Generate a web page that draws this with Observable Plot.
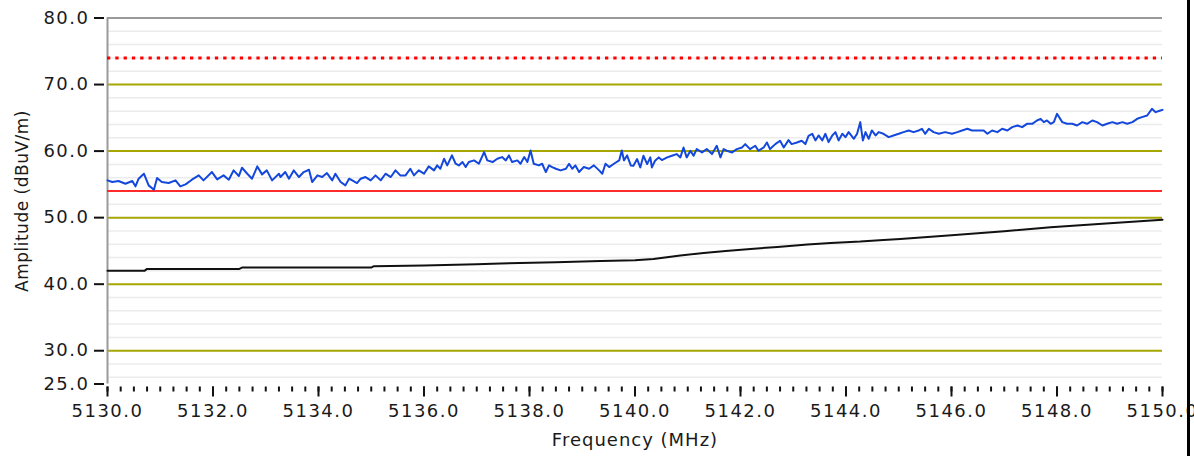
<!DOCTYPE html>
<html>
<head>
<meta charset="utf-8">
<script src="https://cdn.jsdelivr.net/npm/d3@7"></script>
<script src="https://cdn.jsdelivr.net/npm/@observablehq/plot@0.6"></script>
<style>
  html, body { margin: 0; padding: 0; background: #fff; }
  #wrap { position: relative; width: 1194px; height: 456px; overflow: hidden; }
  #edge { position: absolute; left: 1187px; top: 0; width: 3px; height: 456px; background: #000; }
  svg [aria-label="x-axis label"] text { letter-spacing: 1px; font-size: 18px; }
  svg [aria-label="y-axis label"] text { letter-spacing: 0.5px; font-size: 17px; }
</style>
</head>
<body>
<div id="wrap"><div id="chart"></div><div id="edge"></div></div>
<script>
// ---- data ----
const xTicks = [5130, 5132, 5134, 5136, 5138, 5140, 5142, 5144, 5146, 5148, 5150];
const yTicks = [80, 70, 60, 50, 40, 30, 25];
const majorGrid = [70, 60, 50, 40, 30];
const minorGrid = [26, 28, 32, 34, 36, 38, 42, 44, 46, 48, 52, 54, 56, 58, 62, 64, 66, 68, 72, 74, 76, 78];
const limitPeak = 74;   // red dotted
const limitAvg = 54;    // red solid

// blue trace (peak)
const peakTrace = [
  [5130.00,55.6],[5130.09,55.35],[5130.21,55.5],[5130.34,55.1],[5130.47,55.5],[5130.53,54.7],[5130.59,55.85],[5130.69,56.6],
  [5130.78,54.85],[5130.88,54.2],[5130.94,55.95],[5131.03,55.35],[5131.16,55.2],[5131.29,55.6],[5131.38,54.7],[5131.48,55.0],
  [5131.60,55.7],[5131.73,56.35],[5131.82,55.6],[5131.98,56.85],[5132.08,55.75],[5132.20,56.35],[5132.30,55.7],[5132.39,57.1],
  [5132.49,56.25],[5132.55,57.5],[5132.65,56.6],[5132.74,55.85],[5132.84,57.7],[5132.93,56.5],[5133.02,57.1],[5133.12,55.6],
  [5133.25,56.6],
  [5133.28,56.1],[5133.37,56.85],[5133.44,55.85],[5133.53,57.1],[5133.63,56.1],[5133.72,56.85],[5133.82,57.2],[5133.88,55.35],
  [5133.98,56.35],[5134.07,56.1],[5134.16,56.7],[5134.26,55.6],[5134.32,56.6],[5134.42,55.35],[5134.51,54.85],[5134.58,55.85],
  [5134.64,55.6],[5134.73,55.2],[5134.80,55.85],[5134.89,56.1],[5134.99,55.6],[5135.08,56.35],[5135.18,55.6],[5135.27,56.6],
  [5135.37,56.1],[5135.46,57.1],[5135.55,56.35],[5135.65,56.35],[5135.74,57.35],[5135.81,56.35],[5135.90,57.1],[5136.00,56.6],
  [5136.09,57.7],[5136.19,57.1],[5136.25,57.85],[5136.31,57.35],[5136.38,58.85],[5136.44,57.85],[5136.53,59.35],[5136.60,58.1],
  [5136.66,57.85],[5136.73,58.35],[5136.79,57.6],[5136.85,58.35],[5136.95,58.6],[5137.04,58.1],[5137.14,59.85],[5137.20,58.6],
  [5137.30,58.35],[5137.39,58.85],[5137.48,59.1],[5137.55,58.6],[5137.61,59.35],[5137.67,58.35],[5137.77,58.6],[5137.83,58.1],
  [5137.90,59.1],[5137.96,58.35],[5138.02,60.1],[5138.08,58.1],[5138.18,57.85],[5138.24,58.1],[5138.31,56.85],[5138.37,57.85],
  [5138.43,57.6],[5138.50,57.35],[5138.59,57.1],[5138.69,57.35],[5138.75,58.1],[5138.81,57.35],[5138.87,57.85],[5138.94,56.85],
  [5139.03,57.6],[5139.13,57.35],[5139.22,57.85],[5139.32,57.1],[5139.38,56.6],[5139.44,58.1],[5139.51,57.6],[5139.60,58.1],
  [5139.70,58.6],[5139.75,60.1],[5139.79,58.6],[5139.85,59.35],[5139.92,57.85],
  [5139.97,57.8],[5140.04,58.8],[5140.10,57.55],[5140.16,59.3],[5140.23,58.05],[5140.29,59.05],[5140.32,57.55],[5140.38,58.55],
  [5140.45,59.05],[5140.51,58.65],[5140.61,59.05],[5140.70,59.3],[5140.79,59.55],[5140.86,59.05],[5140.92,60.55],[5140.98,59.05],
  [5141.05,60.05],[5141.11,59.3],[5141.17,60.3],[5141.27,59.8],[5141.36,60.3],[5141.46,59.55],[5141.55,60.8],[5141.62,59.05],
  [5141.68,60.3],[5141.74,60.05],[5141.84,59.8],[5141.93,60.3],[5142.03,60.55],[5142.09,61.05],[5142.18,60.3],[5142.28,60.8],
  [5142.34,60.05],[5142.44,60.55],[5142.50,61.3],[5142.56,60.3],[5142.66,61.05],[5142.75,61.55],[5142.82,60.55],[5142.91,61.65],
  [5142.97,61.05],[5143.07,61.3],[5143.16,61.55],[5143.23,61.05],[5143.29,62.3],
  [5143.36,62.6],[5143.42,61.6],[5143.48,62.35],[5143.55,61.6],[5143.61,62.6],[5143.67,61.35],[5143.74,62.35],[5143.80,62.85],
  [5143.86,61.6],[5143.93,62.6],[5143.99,62.1],[5144.05,62.85],[5144.15,61.85],[5144.21,62.6],[5144.27,64.35],[5144.32,61.6],
  [5144.37,62.85],[5144.43,61.85],[5144.49,63.1],[5144.56,62.35],[5144.62,62.85],[5144.71,62.6],[5144.81,62.1],[5144.90,62.35],
  [5145.00,62.6],[5145.09,62.85],[5145.19,63.1],[5145.28,62.85],[5145.38,63.1],[5145.44,63.35],[5145.50,62.6],[5145.57,63.35],
  [5145.66,62.85],[5145.76,62.6],[5145.88,62.85],[5146.01,62.6],[5146.11,62.85],[5146.20,63.1],[5146.30,63.35],[5146.39,63.1],
  [5146.48,63.1],
  [5146.61,63.1],[5146.68,62.6],[5146.77,63.1],[5146.87,62.85],[5146.96,63.35],[5147.06,63.1],[5147.15,63.6],[5147.25,63.85],
  [5147.34,63.6],[5147.43,64.1],[5147.53,64.1],[5147.62,64.6],[5147.69,64.85],[5147.75,64.35],[5147.81,64.6],[5147.88,64.1],
  [5147.94,64.35],[5148.00,65.6],[5148.10,64.35],[5148.19,64.1],[5148.29,64.1],[5148.38,63.85],[5148.48,64.35],[5148.57,64.1],
  [5148.67,64.6],[5148.76,64.35],[5148.86,63.85],[5148.95,64.1],[5149.05,64.35],[5149.14,64.1],[5149.24,64.35],[5149.33,64.1],
  [5149.43,64.35],[5149.52,64.85],[5149.61,65.1],[5149.71,65.35],[5149.80,66.35],[5149.87,65.85],[5149.96,66.1],[5150.00,66.2]
];

// black trace (average)
const avgTrace = [
  [5130.00,42.0],[5130.70,42.0],[5130.75,42.3],[5132.50,42.3],[5132.55,42.5],[5135.00,42.5],[5135.05,42.7],
  [5136.00,42.8],[5137.00,43.0],[5137.45,43.1],[5138.50,43.3],[5139.35,43.5],[5140.00,43.6],[5140.35,43.8],
  [5140.86,44.3],[5141.30,44.7],[5141.72,45.0],[5142.19,45.3],[5142.70,45.6],[5143.27,45.95],[5143.71,46.2],
  [5144.27,46.4],[5144.71,46.65],[5145.03,46.8],[5146.00,47.35],[5147.00,47.95],[5147.88,48.55],[5149.00,49.15],[5150.00,49.7]
];

// ---- chart ----
const minorX = d3.range(0, 81).map(i => 5130 + i * 0.25);
const fmt = d => d.toFixed(1);

const chart = Plot.plot({
  width: 1194,
  height: 456,
  marginLeft: 107,
  marginRight: 32,
  marginTop: 17.5,
  marginBottom: 72.5,
  style: { fontFamily: "DejaVu Sans, Verdana, sans-serif", fontSize: "18px", letterSpacing: "1.5px", color: "#1a1a1a", background: "#fff" },
  x: { domain: [5130, 5150] },
  y: { domain: [25, 80] },
  marks: [
    Plot.ruleY(minorGrid, { stroke: "#ececec", strokeWidth: 1.5 }),
    Plot.ruleY(majorGrid, { stroke: "#a6a600", strokeWidth: 2 }),
    Plot.ruleY([80], { stroke: "#9a9a9a", strokeWidth: 2 }),
    Plot.ruleX([5130], { stroke: "#9a9a9a", strokeWidth: 2 }),
    Plot.ruleY([limitPeak], { stroke: "#ff0000", strokeWidth: 3, strokeDasharray: "3.3,5" }),
    Plot.ruleY([limitAvg], { stroke: "#ff2a2a", strokeWidth: 2 }),
    Plot.line(avgTrace, { x: d => d[0], y: d => d[1], stroke: "#111", strokeWidth: 2 }),
    Plot.line(peakTrace, { x: d => d[0], y: d => d[1], stroke: "#1448dc", strokeWidth: 2 }),
    Plot.axisY({ ticks: yTicks, tickFormat: fmt, tickSize: 10, dx: -3, tickPadding: 5, strokeWidth: 2, stroke: "#111",
                 label: "Amplitude (dBuV/m)", labelAnchor: "center", labelArrow: "none", labelOffset: 92 }),
    Plot.axisX({ ticks: minorX, tickFormat: () => "", tickSize: 5, dy: 3, strokeWidth: 2, stroke: "#111", label: null }),
    Plot.axisX({ ticks: xTicks, tickFormat: fmt, tickSize: 10, dy: 3, tickPadding: 7, strokeWidth: 2, stroke: "#111",
                 label: "Frequency (MHz)", labelAnchor: "center", labelArrow: "none", labelOffset: 62 })
  ]
});
document.getElementById("chart").appendChild(chart);
</script>
</body>
</html>
